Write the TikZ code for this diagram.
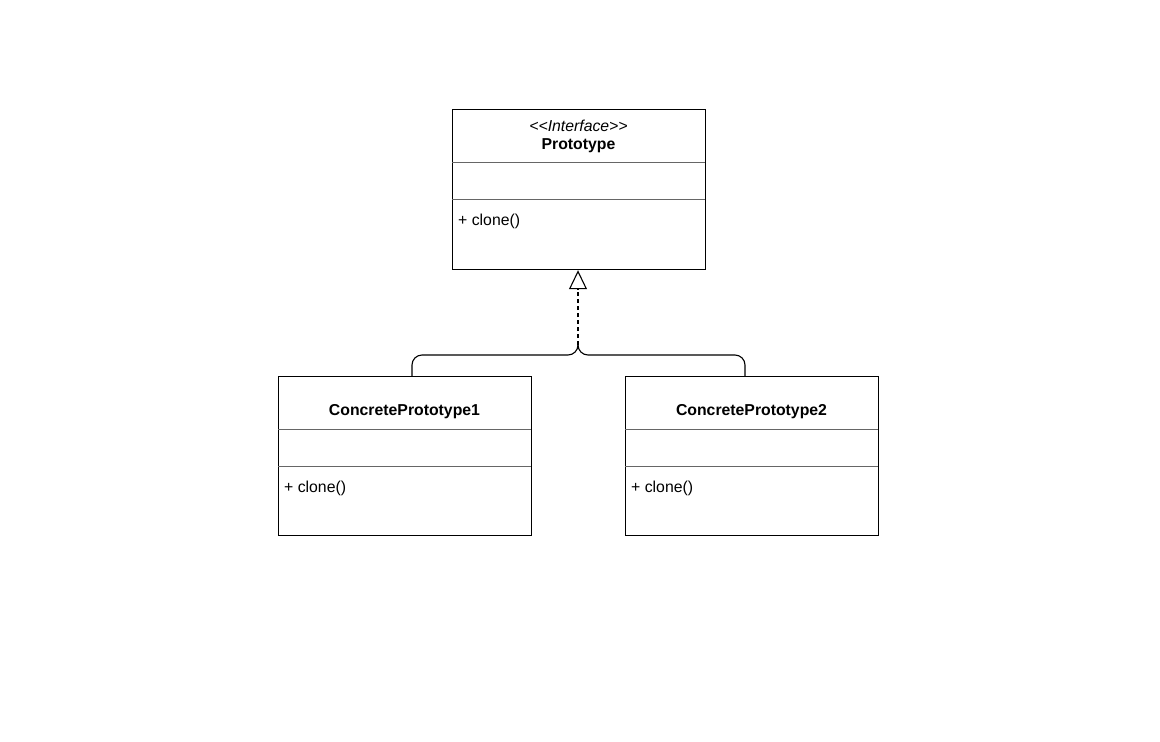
\documentclass[tikz,border=0pt]{standalone}
\usepackage{fontspec}
\setmainfont{Liberation Sans}
\usetikzlibrary{arrows.meta}
\begin{document}
\begin{tikzpicture}[x=1pt,y=-1pt,
  box/.style={draw=black, line width=1.2pt, anchor=north west, inner sep=0pt},
  div/.style={draw=black!60, line width=0.7pt},
  txt/.style={font=\fontsize{15.8}{18}\selectfont, inner sep=0pt},
  title/.style={txt, font=\fontsize{15.8}{18}\selectfont\bfseries},
  meth/.style={txt, anchor=west},
  conn/.style={draw=black, line width=1.1pt},
  dashline/.style={conn, dash pattern=on 4pt off 3pt}
]
\useasboundingbox (0,0) rectangle (1160,742);
\fill[white] (0,0) rectangle (1160,742);

% Prototype
\node[box, minimum width=253, minimum height=160] (proto) at (452,109) {};
\draw[div] (452,162) -- (705,162);
\draw[div] (452,199) -- (705,199);
\node[txt, font=\fontsize{15.8}{18}\selectfont\itshape] (protost) at (578.5,126) {<\kern0pt<Interface>\kern0pt>};
\node[title] (prototitle) at (578.5,146) {Prototype};
\node[meth] (protom) at (458,221) {+ clone()};

% ConcretePrototype1
\node[box, minimum width=253, minimum height=159] (cp1) at (278,376) {};
\draw[div] (278,429) -- (531,429);
\draw[div] (278,466) -- (531,466);
\node[title] (cp1title) at (404.5,412) {ConcretePrototype1};
\node[meth] (cp1m) at (284,488) {+ clone()};

% ConcretePrototype2
\node[box, minimum width=253, minimum height=159] (cp2) at (625,376) {};
\draw[div] (625,429) -- (878,429);
\draw[div] (625,466) -- (878,466);
\node[title] (cp2title) at (751.5,412) {ConcretePrototype2};
\node[meth] (cp2m) at (631,488) {+ clone()};

% Connectors
\coordinate (j) at (578,345);
\coordinate (l) at (412,376);
\coordinate (r) at (745,376);
\draw[dashline, -{Triangle[open, length=19pt, width=18pt, line width=1.1pt]}] (j) -- (proto.south -| j);
\draw[conn, rounded corners=10pt] (l) -- (412,355) -- (578,355) -- (j);
\draw[conn, rounded corners=10pt] (r) -- (745,355) -- (578,355) -- (j);
\end{tikzpicture}
\end{document}
